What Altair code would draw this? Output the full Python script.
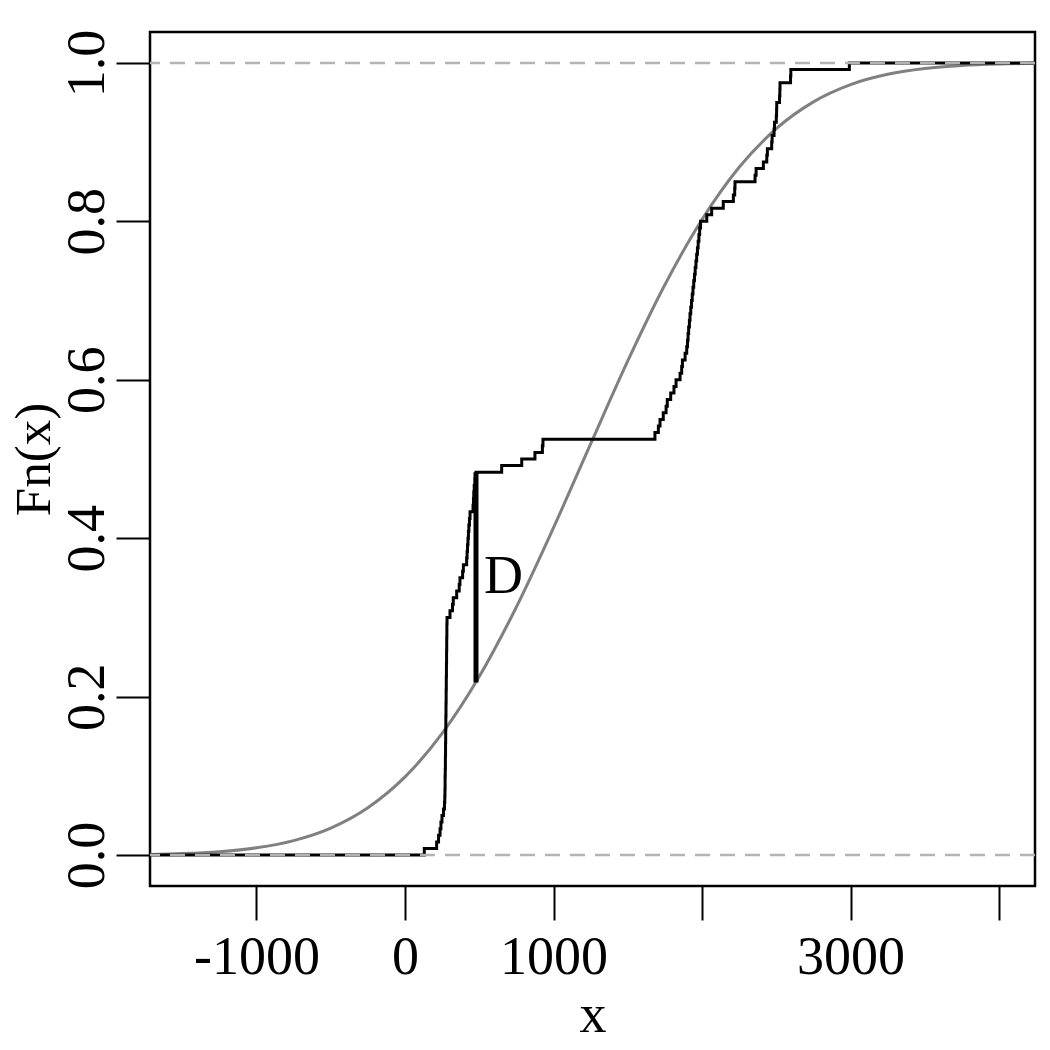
import altair as alt
import pandas as pd

# plot range (data units)
X_MIN, X_MAX = -1717, 4242
Y_MIN, Y_MAX = -0.039, 1.039

# sorted sample values read from the empirical CDF steps
ecdf_x = [130, 213, 226, 236, 242, 249, 259, 266,
          268, 269, 270, 270, 271, 272, 272, 273, 273, 274,
          274, 275, 275, 276, 276, 277, 277, 278, 278, 279,
          279, 280, 280, 281, 281, 282, 282, 283,
          303, 320, 325, 348, 365, 370, 388, 393, 415,
          418, 421, 424, 427, 430, 434, 438, 458, 461, 463, 466, 472, 478,
          651, 786, 875, 925, 929,
          1683, 1706, 1717, 1739, 1758, 1766, 1789, 1811, 1825, 1852, 1863, 1868, 1886,
          1897, 1902, 1906, 1910, 1915, 1919, 1924, 1929, 1934, 1939,
          1944, 1949, 1954, 1959, 1964, 1969, 1974, 1979, 1984, 1990,
          2032, 2065, 2143, 2211, 2220, 2222, 2357, 2364, 2413, 2436,
          2440, 2469, 2472, 2485, 2488, 2500, 2502, 2503, 2522, 2524,
          2525, 2596, 2598, 2992]

# fitted normal CDF
norm_x = [-1717, -1500, -1250, -1000, -750, -500, -250, 0, 250, 500, 750, 1000,
          1250, 1500, 1750, 2000, 2250, 2500, 2750, 3000, 3250, 3500, 3750, 4000, 4242]
norm_p = [0.0009, 0.0019, 0.0043, 0.0092, 0.0183, 0.0341, 0.0598, 0.0987, 0.1536,
          0.2254, 0.3132, 0.4133, 0.5191, 0.6239, 0.7200, 0.8023, 0.8682, 0.9170,
          0.9508, 0.9726, 0.9856, 0.9930, 0.9968, 0.9986, 0.9994]

# KS distance segment
d_x = [478]
d_lo = [0.218]
d_hi = [0.4833]
d_label = ["D"]
d_label_x = [532]
d_label_y = [0.351]

ref_y = [0.0, 1.0]
x_ticks = [-1000, 0, 1000, 2000, 3000, 4000]
y_ticks = [0.0, 0.2, 0.4, 0.6, 0.8, 1.0]

n = len(ecdf_x)
xs = [X_MIN] + ecdf_x + [X_MAX]
fs = [0.0] + [(i + 1) / n for i in range(n)] + [1.0]
ecdf_df = pd.DataFrame({"x": xs, "F": fs, "o": list(range(len(xs)))})
norm_df = pd.DataFrame({"x": norm_x, "F": norm_p})
d_df = pd.DataFrame({"x": d_x, "lo": d_lo, "hi": d_hi})
lab_df = pd.DataFrame({"x": d_label_x, "y": d_label_y, "t": d_label})
ref_df = pd.DataFrame({"y": ref_y})

FONT = "Liberation Serif"
FS = 54

xscale = alt.Scale(domain=[X_MIN, X_MAX], nice=False, zero=False)
yscale = alt.Scale(domain=[Y_MIN, Y_MAX], nice=False, zero=False)

xaxis = alt.Axis(values=x_ticks,
                 labelExpr="(datum.value == 2000 || datum.value == 4000) ? '' : '' + datum.value",
                 grid=False, domain=False, tickColor="black", tickSize=34, tickWidth=2,
                 labelFont=FONT, labelFontSize=FS, labelColor="black", labelPadding=10,
                 labelFlush=False, labelOverlap=False,
                 title="x", titleFont=FONT, titleFontSize=FS, titleFontWeight="normal",
                 titleColor="black", titlePadding=4)
yaxis = alt.Axis(values=y_ticks, format=".1f",
                 grid=False, domain=False, tickColor="black", tickSize=34, tickWidth=2,
                 labelFont=FONT, labelFontSize=FS, labelColor="black", labelPadding=2,
                 labelAngle=270, labelFlush=False, labelOverlap=False,
                 title="Fn(x)", titleFont=FONT, titleFontSize=51, titleFontWeight="normal",
                 titleColor="black", titlePadding=0)

normal = alt.Chart(norm_df).mark_line(color="#808080", strokeWidth=3, interpolate="monotone", clip=True).encode(
    x=alt.X("x:Q", scale=xscale, axis=xaxis),
    y=alt.Y("F:Q", scale=yscale, axis=yaxis),
)

ecdf = alt.Chart(ecdf_df).mark_line(color="black", strokeWidth=3, interpolate="step-after", clip=True).encode(
    x=alt.X("x:Q", scale=xscale),
    y=alt.Y("F:Q", scale=yscale),
    order="o:Q",
)

dseg = alt.Chart(d_df).mark_rule(color="black", strokeWidth=5).encode(
    x=alt.X("x:Q", scale=xscale),
    y=alt.Y("lo:Q", scale=yscale),
    y2="hi:Q",
)

refs = alt.Chart(ref_df).mark_rule(color="#b3b3b3", strokeWidth=2.5, strokeDash=[15, 10]).encode(
    y=alt.Y("y:Q", scale=yscale),
)

dtext = alt.Chart(lab_df).mark_text(font=FONT, fontSize=FS, color="black", align="left", baseline="middle").encode(
    x=alt.X("x:Q", scale=xscale),
    y=alt.Y("y:Q", scale=yscale),
    text="t:N",
)

chart = alt.layer(normal, ecdf, dseg, refs, dtext).properties(
    width=885, height=854,
    autosize=alt.AutoSizeParams(type="none"),
    padding={"left": 142, "top": 24, "right": 7, "bottom": 156},
    background="white",
).configure_view(stroke="black", strokeWidth=2.5)

chart.save("out.html", embed_options={"renderer": "svg", "actions": False})
